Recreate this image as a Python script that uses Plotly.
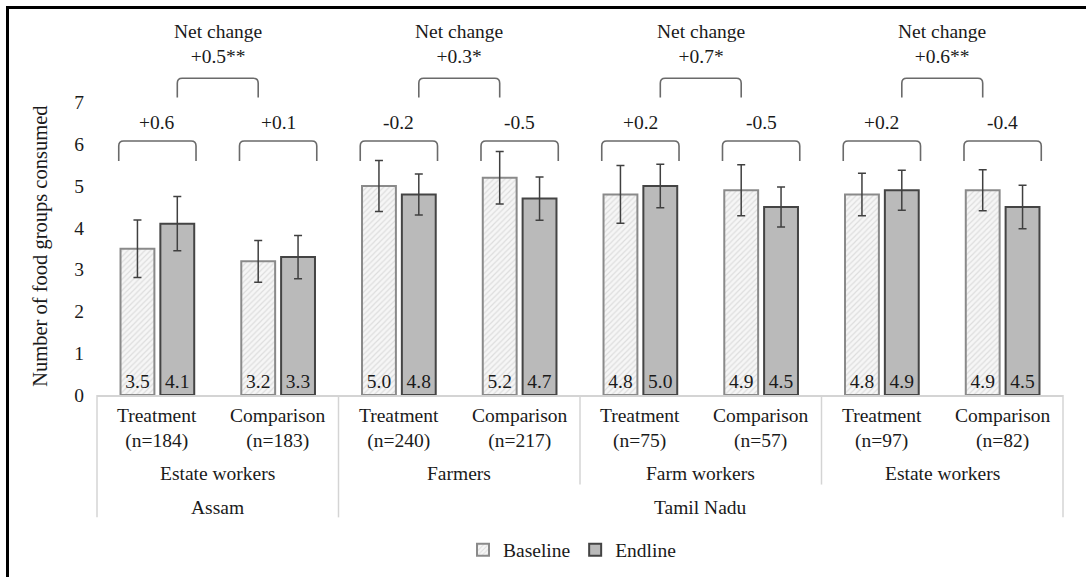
import plotly.graph_objects as go

# ---------------- data ----------------
arm_labels = ["Treatment<br>(n=184)", "Comparison<br>(n=183)",
              "Treatment<br>(n=240)", "Comparison<br>(n=217)",
              "Treatment<br>(n=75)", "Comparison<br>(n=57)",
              "Treatment<br>(n=97)", "Comparison<br>(n=82)"]
group_labels = ["Estate workers", "Farmers", "Farm workers", "Estate workers"]
state_labels = ["Assam", "Tamil Nadu"]
state_spans = [(0, 2), (2, 8)]          # category index ranges [start, end)

baseline = [3.5, 3.2, 5.0, 5.2, 4.8, 4.9, 4.8, 4.9]
endline = [4.1, 3.3, 4.8, 4.7, 5.0, 4.5, 4.9, 4.5]
baseline_err = [0.69, 0.50, 0.61, 0.63, 0.69, 0.61, 0.51, 0.49]
endline_err = [0.65, 0.52, 0.49, 0.52, 0.52, 0.48, 0.48, 0.52]

arm_change = ["+0.6", "+0.1", "-0.2", "-0.5", "+0.2", "-0.5", "+0.2", "-0.4"]
net_change = ["+0.5**", "+0.3*", "+0.7*", "+0.6**"]

y_ticks = [0, 1, 2, 3, 4, 5, 6, 7]
y_title = "Number of food groups consumed"

# ---------------- layout geometry ----------------
W, H = 1086, 580
ML, MR, MT, MB = 97, 23, 10, 183
PW, PH = W - ML - MR, H - MT - MB
N = len(baseline)
YMAX = 9.214

def px_x(px):
    return (px - ML) / PW

def px_y(py):
    return (H - MB - py) / PH

def cat_paper(c):
    return (c + 0.5) / N

FONT = "Liberation Serif, Times New Roman, serif"
TXT = "#1a1a1a"
FS = 19.5

x = list(range(N))
fig = go.Figure()
fig.add_trace(go.Bar(
    name="Baseline", x=x, y=baseline,
    error_y=dict(type="data", array=baseline_err, color="#404040", thickness=1.5, width=4),
    marker=dict(color="#f4f4f4",
                line=dict(color="#8a8a8a", width=2),
                pattern=dict(shape="/", fgcolor="#c4c4c4", bgcolor="#f6f6f6", size=4, solidity=0.3)),
    text=[f"{v:.1f}" for v in baseline], textposition="inside", insidetextanchor="start",
    textangle=0, textfont=dict(family=FONT, size=FS, color=TXT),
))
fig.add_trace(go.Bar(
    name="Endline", x=x, y=endline,
    error_y=dict(type="data", array=endline_err, color="#404040", thickness=1.5, width=4),
    marker=dict(color="#bababa", line=dict(color="#444444", width=2)),
    text=[f"{v:.1f}" for v in endline], textposition="inside", insidetextanchor="start",
    textangle=0, textfont=dict(family=FONT, size=FS, color=TXT),
))

shapes = []
annotations = []
OFF = 0.165      # bar slot centre offset
BR_C = "#6a6a6a"
rx, ry = 0.04, 0.12

def bracket(x0, x1, ytop, ybot):
    return dict(type="path", xref="x", yref="y",
                path=(f"M{x0},{ybot} L{x0},{ytop - ry} Q{x0},{ytop} {x0 + rx},{ytop} "
                      f"L{x1 - rx},{ytop} Q{x1},{ytop} {x1},{ytop - ry} L{x1},{ybot}"),
                line=dict(color=BR_C, width=1.6))

def label(xv, yv, text, xref="x", yref="y", size=FS, angle=0):
    return dict(x=xv, y=yv, xref=xref, yref=yref, text=text, showarrow=False,
                xanchor="center", yanchor="middle", textangle=angle,
                font=dict(family=FONT, size=size, color=TXT))

# per-arm brackets
for i, ch in enumerate(arm_change):
    shapes.append(bracket(i - 0.32, i + 0.32, 6.08, 5.6))
    annotations.append(label(i, 6.52, ch))
# net-change brackets
for g, nc in enumerate(net_change):
    a, b = 2 * g, 2 * g + 1
    shapes.append(bracket(a + OFF, b - OFF, 7.58, 7.12))
    annotations.append(label((a + b) / 2, 8.39, f"Net change<br>{nc}"))

# category table below the axis
LINE_C = "#d4d4d4"
for c, y_end in [(0, 520), (2, 520), (4, 487), (6, 487), (8, 520)]:
    xp = c / N
    shapes.append(dict(type="line", xref="paper", yref="paper", x0=xp, x1=xp,
                       y0=px_y(397), y1=px_y(y_end), line=dict(color=LINE_C, width=1.5)))
for i, lab in enumerate(arm_labels):
    annotations.append(label(cat_paper(i), px_y(431), lab, "paper", "paper"))
for g, lab in enumerate(group_labels):
    annotations.append(label((2 * g + 1) / N, px_y(476), lab, "paper", "paper"))
for lab, (s, e) in zip(state_labels, state_spans):
    annotations.append(label((s + e) / 2 / N, px_y(510), lab, "paper", "paper"))

# y-axis title
annotations.append(label(px_x(41), px_y(248), y_title, "paper", "paper", size=20.5, angle=-90))

# frame lines (top and left)
shapes.append(dict(type="line", xref="paper", yref="paper", x0=px_x(6), x1=px_x(W),
                   y0=px_y(7.5), y1=px_y(7.5), line=dict(color="black", width=3)))
shapes.append(dict(type="line", xref="paper", yref="paper", x0=px_x(7.5), x1=px_x(7.5),
                   y0=px_y(6), y1=px_y(H), line=dict(color="black", width=3)))

fig.update_layout(
    width=W, height=H,
    margin=dict(l=ML, r=MR, t=MT, b=MB, pad=0),
    paper_bgcolor="white", plot_bgcolor="white",
    barmode="group", bargap=0.34, bargroupgap=0.15,
    font=dict(family=FONT, size=FS, color=TXT),
    showlegend=True,
    legend=dict(orientation="h", x=px_x(572), y=px_y(553), xanchor="center", yanchor="middle",
                font=dict(family=FONT, size=FS, color=TXT), bgcolor="rgba(0,0,0,0)"),
    shapes=shapes, annotations=annotations,
    xaxis=dict(range=[-0.5, N - 0.5], showticklabels=False, ticks="", showgrid=False,
               zeroline=False, showline=True, linecolor=LINE_C, linewidth=1.5, fixedrange=True),
    yaxis=dict(range=[0, YMAX], tickvals=y_ticks, ticks="", showgrid=False, zeroline=False,
               showline=False, ticklabelstandoff=12,
               tickfont=dict(family=FONT, size=FS, color=TXT)),
)

fig.write_html("out.html", post_script="document.body.style.margin='0';",
               config={"displayModeBar": False})
